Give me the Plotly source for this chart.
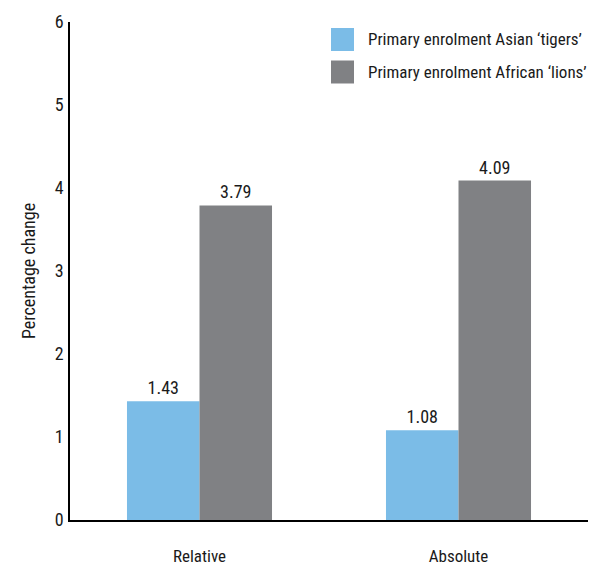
import plotly.graph_objects as go

categories = ["Relative", "Absolute"]
series_names = ["Primary enrolment Asian ‘tigers’", "Primary enrolment African ‘lions’"]
tigers = [1.43, 1.08]
lions = [3.79, 4.09]
y_ticks = [0, 1, 2, 3, 4, 5, 6]

colors = ["#7BBCE7", "#808184"]
FONT = "Liberation Sans Narrow, Roboto Condensed, Arial Narrow, Liberation Sans, sans-serif"

# page body has an 8px default margin: size the figure to fit the visible window
fig = go.Figure()
for name, vals, c in zip(series_names, [tigers, lions], colors):
    fig.add_trace(go.Bar(
        x=categories, y=vals, name=name, marker=dict(color=c, line=dict(width=0)),
        text=[f"{v:.2f}" for v in vals], textposition="outside",
        textfont=dict(size=18, color="#1a1a1a", family=FONT), cliponaxis=False,
        showlegend=False,
    ))

fig.update_layout(
    width=592, height=557,
    margin=dict(l=62, r=12, t=14, b=45),
    paper_bgcolor="white", plot_bgcolor="white",
    barmode="group", bargap=0.44, bargroupgap=0,
    font=dict(family=FONT, size=17, color="#1a1a1a"),
    xaxis=dict(showline=True, linecolor="black", linewidth=1.5, ticks="",
               showgrid=False, tickfont=dict(size=17), ticklabelstandoff=20,
               automargin=False),
    yaxis=dict(range=[0, 6], tickvals=y_ticks, showline=True, linecolor="black",
               linewidth=1.5, ticks="", showgrid=False, zeroline=False,
               tickfont=dict(size=18), ticklabelstandoff=1, automargin=False,
               title=dict(text="Percentage change", font=dict(size=18), standoff=14)),
)

# custom legend (positions in plot-area pixels)
legend_y = [39.5, 72]
for name, c, yc in zip(series_names, colors, legend_y):
    fig.add_shape(type="rect", xref="paper", yref="paper",
                  x0=(331 - 70) / 518, x1=(354 - 70) / 518,
                  y0=(520 - (yc + 11.5)) / 498, y1=(520 - (yc - 11.5)) / 498,
                  fillcolor=c, line=dict(width=0))
    fig.add_annotation(xref="paper", yref="paper", x=(366 - 70) / 518,
                       y=(520 - yc) / 498, text=name, showarrow=False,
                       xanchor="left", yanchor="middle", font=dict(size=17, color="#1a1a1a"))

fig.write_html("out.html")
